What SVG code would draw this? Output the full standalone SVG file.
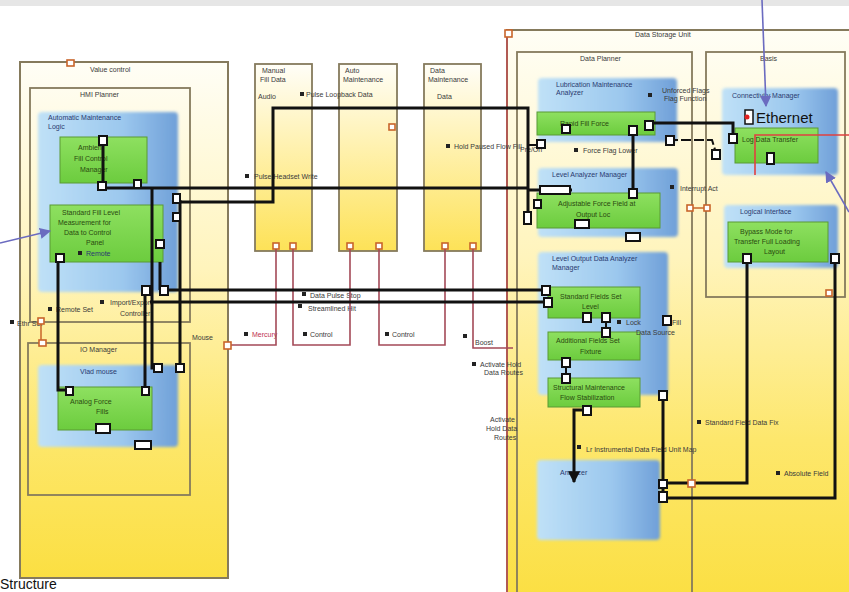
<svg xmlns="http://www.w3.org/2000/svg" width="849" height="592" viewBox="0 0 849 592">
<defs>
<linearGradient id="yg" x1="0" y1="0" x2="0" y2="1">
<stop offset="0" stop-color="#fffef6"/><stop offset="0.4" stop-color="#fff4bc"/><stop offset="0.72" stop-color="#fde76c"/><stop offset="1" stop-color="#fbdf42"/>
</linearGradient>
<linearGradient id="yg2" x1="0" y1="0" x2="0" y2="1">
<stop offset="0" stop-color="#fffef8"/><stop offset="0.45" stop-color="#fff1ae"/><stop offset="1" stop-color="#fde257"/>
</linearGradient>
<linearGradient id="bg" x1="0" y1="0" x2="1" y2="0">
<stop offset="0" stop-color="#bfe1f7"/><stop offset="0.6" stop-color="#9cc8ee"/><stop offset="1" stop-color="#6f9fd8"/>
</linearGradient>
<linearGradient id="gg" x1="0" y1="0" x2="0" y2="1">
<stop offset="0" stop-color="#8ee060"/><stop offset="1" stop-color="#6ccc3e"/>
</linearGradient>
<filter id="soft" x="-5%" y="-5%" width="110%" height="110%"><feGaussianBlur stdDeviation="1.6"/></filter>
<marker id="ab" viewBox="0 0 10 10" refX="9" refY="5" markerWidth="7" markerHeight="7" orient="auto"><path d="M0,0 L10,5 L0,10 z" fill="#6b6bc0"/></marker>
<marker id="ak" viewBox="0 0 10 10" refX="9" refY="5" markerWidth="4" markerHeight="4" orient="auto"><path d="M0,0 L10,5 L0,10 z" fill="#111"/></marker>
<style>
.cont{fill:url(#yg);stroke:#857a5c;stroke-width:2}
.sub{fill:none;stroke:#857a5c;stroke-width:1.8}
.mid{fill:url(#yg2);stroke:#857a5c;stroke-width:1.8}
.blue{fill:url(#bg);filter:url(#soft)}
.green{fill:url(#gg);stroke:#5a9a34;stroke-width:1}
.port{fill:#fff;stroke:#111;stroke-width:2}
.oport{fill:#fff;stroke:#c8642a;stroke-width:1.6}
.wire{fill:none;stroke:#111;stroke-width:3}
.thin{fill:none;stroke:#111;stroke-width:2}
.red{fill:none;stroke:#a44a58;stroke-width:1.6}
.arr{stroke:#6b6bc0;stroke-width:1.6;fill:none}
.t{font-family:"Liberation Sans",Arial,sans-serif;font-size:7px;fill:#3a3a3a}
.tg{font-family:"Liberation Sans",Arial,sans-serif;font-size:7px;fill:#2a4a10}
.tb{font-family:"Liberation Sans",Arial,sans-serif;font-size:7px;fill:#2a3a70}
.sq{fill:#222}
</style>
</defs>
<rect x="0" y="0" width="849" height="592" fill="#ffffff"/>
<rect x="0" y="0" width="849" height="6" fill="#e6e6e6"/>

<!-- Left container -->
<g id="left-container">
<rect class="cont" x="20" y="62" width="208" height="516"/>
<rect class="oport" x="67" y="60" width="7" height="6"/>
<text class="t" x="90" y="72">Value control</text>
</g>
<g id="left-planner">
<rect class="sub" x="30" y="88" width="160" height="234"/>
<text class="t" x="80" y="97">HMI Planner</text>
</g>
<g id="left-blue">
<rect class="blue" x="38" y="112" width="140" height="180" rx="4"/>
<text class="tb" x="48" y="120">Automatic Maintenance</text>
<text class="tb" x="48" y="129">Logic</text>
</g>
<g id="left-green1">
<rect class="green" x="60" y="137" width="87" height="46"/>
<text class="tg" x="78" y="150">Ambient</text>
<text class="tg" x="74" y="161">Fill Control</text>
<text class="tg" x="80" y="172">Manager</text>
</g>
<g id="left-green2">
<rect class="green" x="50" y="205" width="113" height="57"/>
<text class="tg" x="62" y="215">Standard Fill Level</text>
<text class="tg" x="58" y="225">Measurement for</text>
<text class="tg" x="64" y="235">Data to Control</text>
<text class="tg" x="86" y="245">Panel</text>
<rect class="sq" x="78" y="251" width="4" height="4"/>
<text class="tb" x="86" y="256">Remote</text>
</g>
<g id="left-lower">
<rect class="sub" x="28" y="343" width="162" height="152"/>
<rect class="oport" x="39" y="340" width="7" height="6"/>
<text class="t" x="80" y="352">IO Manager</text>
</g>
<g id="left-lower-blue">
<rect class="blue" x="38" y="365" width="140" height="82" rx="4"/>
<text class="tb" x="80" y="374">Vlad mouse</text>
</g>
<g id="left-lower-green">
<rect class="green" x="58" y="387" width="94" height="43"/>
<text class="tg" x="70" y="404">Analog Force</text>
<text class="tg" x="96" y="414">Fills</text>
</g>

<!-- Middle boxes -->
<g id="mid1">
<rect class="mid" x="255" y="64" width="57" height="187"/>
<text class="t" x="262" y="73">Manual</text>
<text class="t" x="260" y="82">Fill Data</text>
<text class="t" x="258" y="99">Audio</text>
<rect class="oport" x="273" y="243" width="6" height="6"/>
<rect class="oport" x="290" y="243" width="6" height="6"/>
</g>
<g id="mid2">
<rect class="mid" x="339" y="64" width="58" height="187"/>
<text class="t" x="345" y="73">Auto</text>
<text class="t" x="343" y="82">Maintenance</text>
<rect class="oport" x="389" y="124" width="6" height="6"/>
<rect class="oport" x="347" y="243" width="6" height="6"/>
<rect class="oport" x="376" y="243" width="6" height="6"/>
</g>
<g id="mid3">
<rect class="mid" x="424" y="64" width="57" height="187"/>
<text class="t" x="430" y="73">Data</text>
<text class="t" x="428" y="82">Maintenance</text>
<text class="t" x="437" y="99">Data</text>
<rect class="oport" x="442" y="243" width="6" height="6"/>
<rect class="oport" x="470" y="243" width="6" height="6"/>
</g>

<!-- Right container -->
<g id="right-container">
<rect class="cont" x="507" y="30" width="345" height="570"/>
<line x1="507" y1="30" x2="507" y2="592" stroke="#c05050" stroke-width="1.5"/>
<rect class="oport" x="505" y="30" width="7" height="7"/>
<text class="t" x="635" y="37">Data Storage Unit</text>
</g>
<g id="right-planner">
<rect class="sub" x="517" y="52" width="175" height="545"/>
<text class="t" x="580" y="61">Data Planner</text>
</g>
<g id="right-sub">
<rect class="sub" x="706" y="52" width="139" height="245"/>
<text class="t" x="760" y="61">Basis</text>
<rect class="oport" x="687" y="205" width="6" height="6"/>
<rect class="oport" x="704" y="205" width="6" height="6"/>
<line x1="693" y1="208" x2="704" y2="208" stroke="#c8642a" stroke-width="1.5"/>
</g>
<g id="rblueA">
<rect class="blue" x="538" y="78" width="139" height="64" rx="4"/>
<text class="tb" x="556" y="87">Lubrication Maintenance</text>
<text class="tb" x="556" y="95">Analyzer</text>
<rect class="green" x="537" y="112" width="118" height="23"/>
<text class="tg" x="560" y="126">Rapid Fill Force</text>
</g>
<g id="rblueB">
<rect class="blue" x="538" y="168" width="140" height="69" rx="4"/>
<text class="tb" x="552" y="177">Level Analyzer Manager</text>
<rect class="green" x="537" y="193" width="123" height="35"/>
<text class="tg" x="558" y="206">Adjustable Force Field at</text>
<text class="tg" x="576" y="217">Output Loc</text>
</g>
<g id="rblueC">
<rect class="blue" x="538" y="252" width="130" height="143" rx="4"/>
<text class="tb" x="552" y="261">Level Output Data Analyzer</text>
<text class="tb" x="552" y="270">Manager</text>
<rect class="green" x="548" y="287" width="92" height="31"/>
<text class="tg" x="560" y="299">Standard Fields Set</text>
<text class="tg" x="582" y="309">Level</text>
<rect class="green" x="548" y="332" width="92" height="28"/>
<text class="tg" x="556" y="343">Additional Fields Set</text>
<text class="tg" x="580" y="354">Fixture</text>
<rect class="green" x="548" y="378" width="92" height="29"/>
<text class="tg" x="553" y="390">Structural Maintenance</text>
<text class="tg" x="560" y="400">Flow Stabilization</text>
</g>
<g id="rblueD">
<rect class="blue" x="537" y="460" width="123" height="80" rx="4"/>
<text class="tb" x="560" y="475">Analyzer</text>
</g>
<g id="rblueE">
<rect class="blue" x="722" y="88" width="116" height="87" rx="4"/>
<text class="tb" x="732" y="98">Connectivity Manager</text>
<rect class="green" x="735" y="128" width="83" height="35"/>
<text class="tg" x="742" y="142">Log Data Transfer</text>
<rect x="745" y="110" width="8" height="14" fill="#fff" stroke="#111" stroke-width="1.5"/>
<circle cx="747" cy="117" r="2.5" fill="#e02020"/>
<text x="756" y="123" font-family="'Liberation Sans',Arial,sans-serif" font-size="15" fill="#111">Ethernet</text>
<polyline points="849,135 755,135 755,175" fill="none" stroke="#e04040" stroke-width="1.6"/>
</g>
<g id="rblueF">
<rect class="blue" x="724" y="205" width="114" height="63" rx="4"/>
<text class="tb" x="740" y="214">Logical Interface</text>
<rect class="green" x="728" y="222" width="100" height="40"/>
<text class="tg" x="740" y="234">Bypass Mode for</text>
<text class="tg" x="734" y="244">Transfer Full Loading</text>
<text class="tg" x="764" y="254">Layout</text>
</g>

<!-- Labels -->
<g id="labels">
<rect class="sq" x="245" y="174" width="4" height="4"/><text class="t" x="254" y="179">Pulse Headset Write</text>
<rect class="sq" x="300" y="92" width="4" height="4"/><text class="t" x="306" y="97">Pulse Loopback Data</text>
<rect class="sq" x="446" y="144" width="4" height="4"/><text class="t" x="454" y="149">Hold Paused Flow Fill</text>
<rect class="sq" x="302" y="292" width="4" height="4"/><text class="t" x="310" y="298">Data Pulse Stop</text>
<rect class="sq" x="298" y="304" width="4" height="4"/><text class="t" x="308" y="311">Streamlined Hit</text>
<rect class="sq" x="244" y="332" width="4" height="4"/><text x="252" y="337" font-family="'Liberation Sans',Arial,sans-serif" font-size="7" fill="#c03050">Mercury</text>
<rect class="sq" x="303" y="332" width="4" height="4"/><text class="t" x="310" y="337">Control</text>
<rect class="sq" x="385" y="332" width="4" height="4"/><text class="t" x="392" y="337">Control</text>
<rect class="sq" x="463" y="334" width="4" height="4"/><text class="t" x="475" y="345">Boost</text>
<rect class="sq" x="472" y="362" width="4" height="4"/><text class="t" x="480" y="367">Activate Hold</text><text class="t" x="484" y="375">Data Routes</text>
<text class="t" x="490" y="422">Activate</text><text class="t" x="486" y="431">Hold Data</text><text class="t" x="494" y="440">Routes</text>
<rect class="sq" x="577" y="445" width="4" height="4"/><text class="t" x="586" y="452">Lr Instrumental Data Field Unit Map</text>
<rect class="sq" x="697" y="420" width="4" height="4"/><text class="t" x="705" y="425">Standard Field Data Fix</text>
<rect class="sq" x="776" y="471" width="4" height="4"/><text class="t" x="784" y="476">Absolute Field</text>
<rect class="sq" x="617" y="320" width="4" height="4"/><text class="t" x="626" y="325">Lock</text><text class="t" x="672" y="325">Fill</text>
<text class="t" x="636" y="335">Data Source</text>
<text class="t" x="662" y="93">Unforced Flags</text><text class="t" x="664" y="101">Flag Function</text>
<rect class="sq" x="648" y="93" width="4" height="4"/>
<rect class="sq" x="574" y="148" width="4" height="4"/><text class="t" x="583" y="153">Force Flag Lower</text>
<text class="t" x="520" y="152">Pre/On</text>
<rect class="sq" x="670" y="185" width="4" height="4"/><text class="t" x="680" y="191">Interrupt Act</text>
<rect class="sq" x="10" y="320" width="4" height="4"/><text class="t" x="17" y="326">Ethr Set</text>
<rect class="sq" x="48" y="307" width="4" height="4"/><text class="t" x="56" y="312">Remote Set</text>
<rect class="sq" x="100" y="300" width="4" height="4"/><text class="t" x="110" y="305">Import/Export</text>
<text class="t" x="120" y="316">Controller</text>
<text class="t" x="192" y="340">Mouse</text>
</g>

<!-- Connectors -->
<g id="connectors">
<polyline class="red" points="276,249 276,345 228,345"/>
<polyline class="red" points="293,249 293,345 350,345 350,249"/>
<polyline class="red" points="379,249 379,345 445,345 445,249"/>
<polyline class="red" points="473,249 473,348 513,348"/>
<rect class="oport" x="224" y="342" width="7" height="7"/>
<rect class="oport" x="38" y="318" width="6" height="6"/>
<line x1="41" y1="324" x2="41" y2="340" stroke="#c8642a" stroke-width="1.5"/>

<polyline class="wire" points="103,140 103,188 528,188"/>
<polyline class="wire" points="175,202 273,202 273,108 528,108 528,225"/>
<polyline class="wire" points="528,190 572,190"/>
<polyline class="thin" points="528,145 540,145"/>
<polyline class="wire" points="163,290 548,290"/>
<polyline class="wire" points="150,302 552,302"/>
<polyline class="wire" points="152,188 152,368 158,368"/>
<polyline class="wire" points="180,200 180,368"/>
<polyline class="wire" points="160,262 160,290"/>
<polyline class="wire" points="58,258 58,390 70,390"/>
<polyline class="wire" points="145,290 145,390"/>
<polyline class="wire" points="650,123 733,123 733,138"/>
<polyline class="wire" points="633,130 633,193"/>
<polyline class="thin" points="668,140 712,140 716,153" stroke-dasharray="10,3"/>
<polyline class="wire" points="747,262 747,483 662,483"/>
<polyline class="wire" points="835,262 835,498 660,498"/>
<polyline class="wire" points="663,395 663,498"/>
<polyline class="wire" points="587,410 574,410 574,482" marker-end="url(#ak)"/>
<line class="thin" x1="606" y1="317" x2="606" y2="332"/>
<line class="thin" x1="566" y1="362" x2="566" y2="378"/>

<rect class="port" x="99" y="136" width="8" height="9"/>
<rect class="port" x="98" y="182" width="8" height="8"/>
<rect class="port" x="134" y="180" width="7" height="8"/>
<rect class="port" x="173" y="194" width="7" height="9"/>
<rect class="port" x="173" y="213" width="7" height="8"/>
<rect class="port" x="156" y="240" width="8" height="8"/>
<rect class="port" x="56" y="254" width="8" height="8"/>
<rect class="port" x="142" y="286" width="8" height="9"/>
<rect class="port" x="160" y="286" width="8" height="9"/>
<rect class="port" x="154" y="364" width="8" height="8"/>
<rect class="port" x="176" y="364" width="8" height="8"/>
<rect class="port" x="66" y="387" width="7" height="8"/>
<rect class="port" x="142" y="387" width="7" height="8"/>
<rect class="port" x="96" y="424" width="14" height="9"/>
<rect class="port" x="135" y="441" width="16" height="8"/>
<rect class="port" x="537" y="140" width="8" height="8"/>
<rect class="port" x="562" y="125" width="8" height="8"/>
<rect class="port" x="629" y="126" width="8" height="9"/>
<rect class="port" x="645" y="121" width="8" height="9"/>
<rect class="port" x="666" y="136" width="8" height="9"/>
<rect class="port" x="712" y="150" width="8" height="9"/>
<rect class="port" x="729" y="134" width="8" height="9"/>
<rect class="port" x="767" y="153" width="7" height="11"/>
<rect class="port" x="629" y="189" width="8" height="9"/>
<rect class="port" x="540" y="186" width="30" height="8"/>
<rect class="port" x="534" y="200" width="7" height="8"/>
<rect class="port" x="524" y="212" width="7" height="12"/>
<rect class="port" x="575" y="220" width="14" height="8"/>
<rect class="port" x="626" y="233" width="14" height="8"/>
<rect class="port" x="542" y="286" width="8" height="9"/>
<rect class="port" x="544" y="298" width="8" height="9"/>
<rect class="port" x="583" y="313" width="8" height="9"/>
<rect class="port" x="602" y="313" width="8" height="9"/>
<rect class="port" x="602" y="328" width="8" height="9"/>
<rect class="port" x="663" y="316" width="8" height="9"/>
<rect class="port" x="562" y="358" width="8" height="9"/>
<rect class="port" x="562" y="374" width="8" height="9"/>
<rect class="port" x="583" y="406" width="8" height="9"/>
<rect class="port" x="659" y="391" width="8" height="9"/>
<rect class="port" x="659" y="480" width="8" height="8"/>
<rect class="port" x="659" y="492" width="8" height="10"/>
<rect class="port" x="743" y="254" width="8" height="9"/>
<rect class="port" x="831" y="254" width="8" height="9"/>
<rect class="oport" x="688" y="480" width="7" height="7"/>
<rect class="oport" x="826" y="290" width="6" height="6"/>
</g>

<!-- Annotation arrows -->
<g id="annotations">
<line class="arr" x1="762" y1="0" x2="766" y2="106" marker-end="url(#ab)"/>
<line class="arr" x1="849" y1="212" x2="826" y2="172" marker-end="url(#ab)"/>
<line class="arr" x1="0" y1="243" x2="50" y2="231" marker-end="url(#ab)"/>
<text x="0" y="589" font-family="'Liberation Sans',Arial,sans-serif" font-size="14" fill="#111">Structure</text>
</g>
</svg>
